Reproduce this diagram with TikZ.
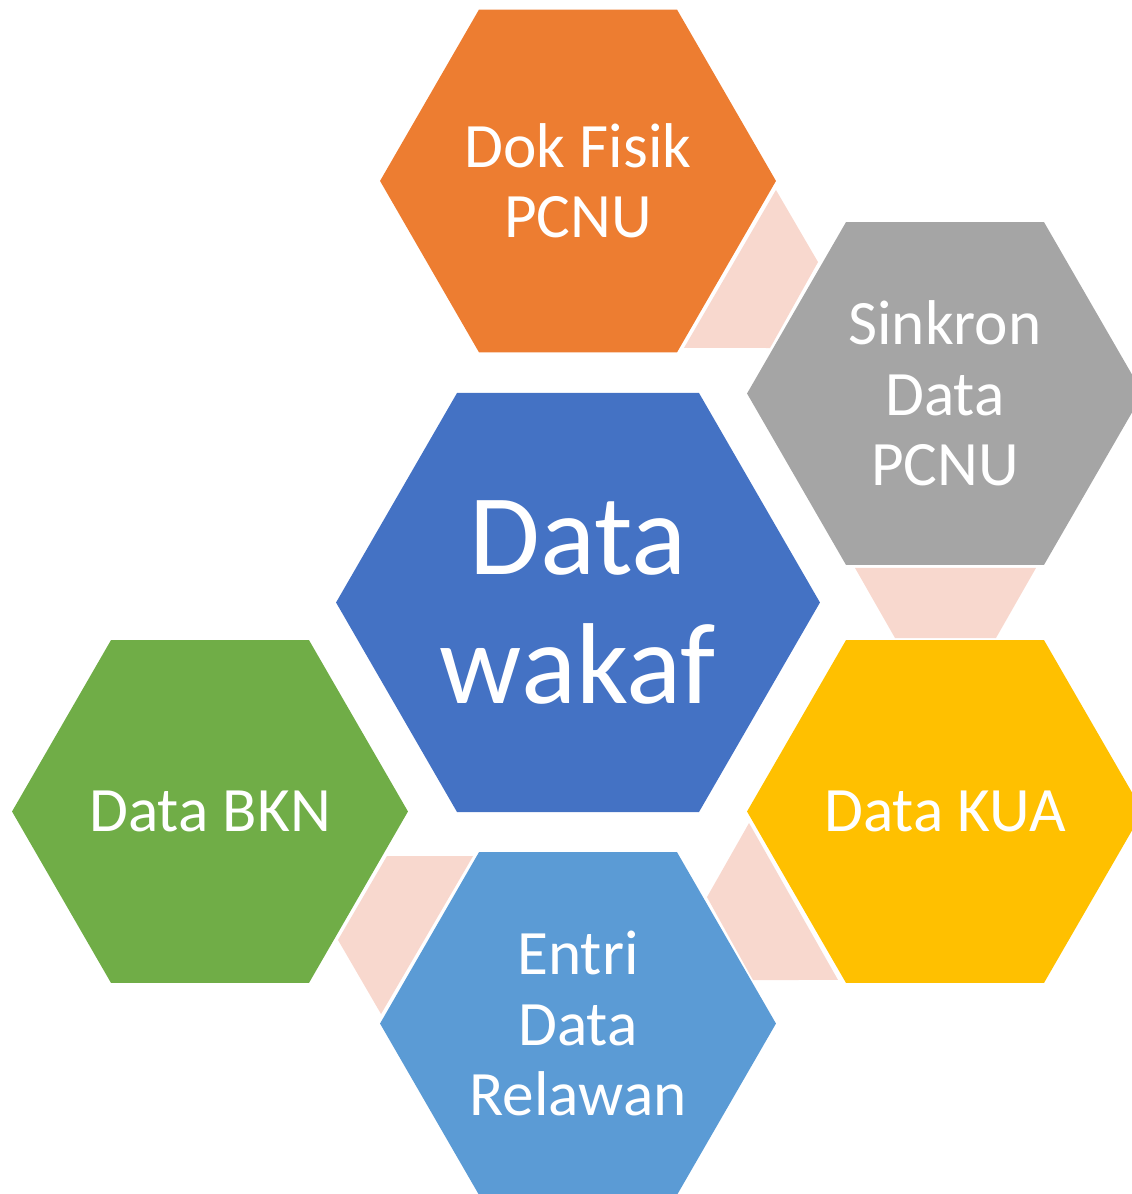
\documentclass[tikz,border=0pt]{standalone}
\usepackage{fontspec}
\setmainfont{Carlito}
\usepackage{xcolor}
\definecolor{hexOrange}{HTML}{ED7D31}
\definecolor{hexGray}{HTML}{A5A5A5}
\definecolor{hexBlue}{HTML}{4472C4}
\definecolor{hexGold}{HTML}{FFC000}
\definecolor{hexSky}{HTML}{5B9BD5}
\definecolor{hexGreen}{HTML}{70AD47}
\definecolor{linkPink}{HTML}{F8D8CE}
\usepackage{tikz}
\usetikzlibrary{shapes.geometric,positioning,calc}
\tikzset{%
  hexBox/.style={%
    regular polygon,
    regular polygon sides=6,
    minimum size=7.92cm,
    inner sep=0pt,
    outer sep=0pt,
    text=white,
    align=center,
    font=\fontsize{36}{40}\selectfont
  },
  hexCenter/.style={%
    hexBox,
    minimum size=9.68cm,
    font=\fontsize{65.5}{73}\selectfont
  },
  linkShape/.style={%
    fill=linkPink
  }
}

\begin{document}
\begin{tikzpicture}[x=0.02cm, y=-0.02cm]
            \useasboundingbox (0,0) rectangle (1132,1194);
            \clip (0,0) rectangle (1132,1194);

            \node[hexCenter, fill=hexBlue] (wakaf) at (578,602.5) {Data\\wakaf};
            \node[hexBox, fill=hexOrange, above=0.81cm of wakaf] (fisik) {Dok Fisik\\PCNU};
            \node[hexBox, fill=hexGray] (sinkron) at (945,393.5) {Sinkron\\Data\\PCNU};
            \node[hexBox, fill=hexGold] (kua) at (945,811.5) {Data KUA};
            \node[hexBox, fill=hexSky, below=0.8cm of wakaf] (entri) {Entri\\Data\\Relawan};
            \node[hexBox, fill=hexGreen] (bkn) at (210,811.5) {Data BKN};

            % links between the outer hexagons
            \fill[linkShape] ($(fisik.0)+(0,9)$) -- ($(sinkron.120)+(-28,40)$)
                -- ($(sinkron.180)+(23,-45.5)$) -- ($(fisik.-60)+(7,-4.5)$) -- cycle;
            \fill[linkShape] ($(sinkron.-120)+(9,3)$) -- ($(sinkron.-60)+(-8,3)$)
                -- ($(kua.60)+(-48,-2)$) -- ($(kua.120)+(49,-2)$) -- cycle;
            \fill[linkShape] ($(kua.180)+(2,11.5)$) -- ($(kua.-120)+(-8,-3)$)
                -- ($(entri.0)+(-23,-43.5)$) -- ($(entri.60)+(30,45)$) -- cycle;
            \fill[linkShape] ($(bkn.0)+(-21,44.5)$) -- ($(entri.120)+(-6,4)$)
                -- ($(entri.180)+(1,-9.5)$) -- ($(bkn.-60)+(29,-43)$) -- cycle;
        \end{tikzpicture}
\end{document}
